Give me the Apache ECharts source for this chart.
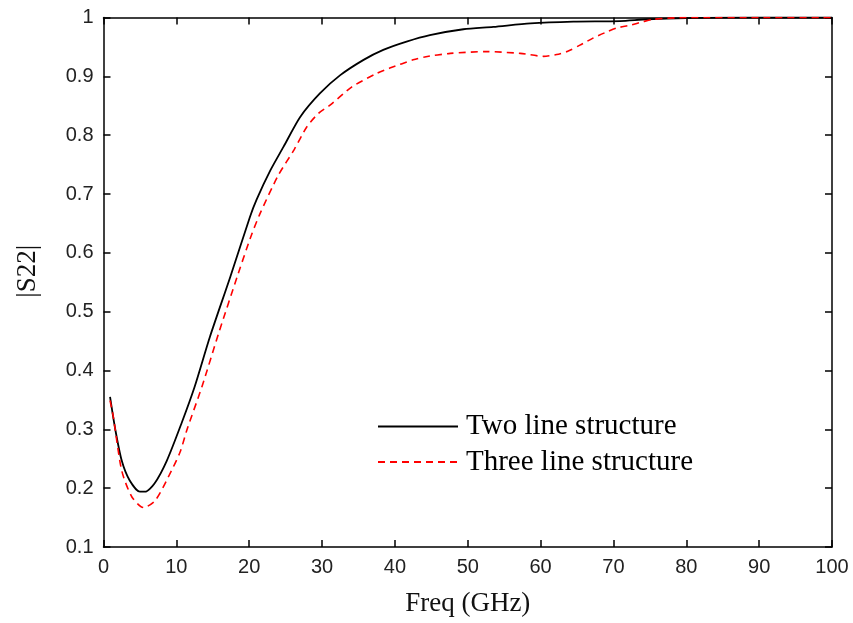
<!DOCTYPE html>
<html><head><meta charset="utf-8">
<script src="https://cdn.jsdelivr.net/npm/echarts@6/dist/echarts.min.js"></script>
<style>html,body{margin:0;padding:0;background:#fff}#c{width:853px;height:623px}</style>
</head><body><div id="c"></div>
<script>
// Data
const freqTwo = [0.9, 1.6, 2.5, 3.6, 5, 5.7, 7, 8.7, 10.7, 12.5, 14.6, 17.4, 20.1, 21, 22.9, 24.7, 27, 29.7, 32.5, 35.7, 38.4, 41.6, 44.8, 49.4, 53.5, 58.6, 64.5, 70.9, 74.6, 80, 90, 100];
const s22Two = [0.355, 0.301, 0.247, 0.213, 0.194, 0.194, 0.208, 0.247, 0.310, 0.372, 0.457, 0.559, 0.661, 0.690, 0.740, 0.780, 0.831, 0.871, 0.902, 0.928, 0.945, 0.959, 0.970, 0.980, 0.984, 0.990, 0.993, 0.994, 0.997, 0.999, 1.0, 1.0];
const freqThree = [0.9, 1.35, 2.5, 3.9, 5.5, 7.1, 8.9, 10.5, 11.5, 13.5, 15.8, 18.5, 20.3, 21.5, 24, 26.2, 27.9, 29.5, 31.1, 34.1, 37.5, 39.3, 42.5, 44.1, 47.6, 52.6, 57.2, 60.4, 62.2, 63.8, 65.4, 67.2, 68.8, 70.4, 72.3, 74.1, 75.5, 80, 90, 100];
const s22Three = [0.349, 0.321, 0.230, 0.185, 0.167, 0.179, 0.219, 0.261, 0.301, 0.372, 0.463, 0.565, 0.630, 0.667, 0.732, 0.776, 0.814, 0.837, 0.851, 0.882, 0.905, 0.914, 0.928, 0.933, 0.939, 0.942, 0.939, 0.934, 0.937, 0.943, 0.953, 0.965, 0.974, 0.982, 0.987, 0.993, 0.997, 1.0, 1.0, 1.0];
const seriesNames = ['Two line structure', 'Three line structure'];
const xAxisName = 'Freq (GHz)';
const yAxisName = '|S22|';

const pairs = (xs, ys) => xs.map((x, i) => [x, ys[i]]);
const chart = echarts.init(document.getElementById('c'), null, {renderer: 'canvas'});
const tickFont = {fontFamily: 'Liberation Sans', fontSize: 20, color: '#222'};
const nameFont = {fontFamily: 'Liberation Serif', fontSize: 27, color: '#111'};
const axLine = {show: true, onZero: false, lineStyle: {color: '#000', width: 1.5}};
const axTick = {show: true, inside: true, length: 7, lineStyle: {color: '#000', width: 1.5}};
chart.setOption({
  animation: false,
  backgroundColor: '#fff',
  grid: {left: 103.5, top: 17.5, right: 21, bottom: 76, containLabel: false},
  legend: {
    orient: 'vertical', left: 373, top: 408,
    itemWidth: 80, itemHeight: 20, itemGap: 6.5,
    itemStyle: {opacity: 0},
    textStyle: {fontFamily: 'Liberation Serif', fontSize: 29, color: '#000', padding: [0, 0, 0, 3]},
    backgroundColor: '#fff', padding: [4, 10, 4, 4],
    data: seriesNames
  },
  xAxis: [{
    type: 'value', min: 0, max: 100, interval: 10,
    name: xAxisName, nameLocation: 'middle', nameGap: 43, nameTextStyle: nameFont,
    axisLine: axLine, axisTick: axTick, splitLine: {show: false},
    axisLabel: Object.assign({margin: 10}, tickFont)
  }, {
    type: 'value', min: 0, max: 100, interval: 10, position: 'top',
    axisLine: axLine, axisTick: axTick, splitLine: {show: false}, axisLabel: {show: false}
  }],
  yAxis: [{
    type: 'value', min: 0.1, max: 1, interval: 0.1,
    name: yAxisName, nameLocation: 'middle', nameGap: 62, nameTextStyle: Object.assign({padding: [0, 0, 0, 22]}, nameFont),
    axisLine: axLine, axisTick: axTick, splitLine: {show: false},
    axisLabel: Object.assign({margin: 10, formatter: v => (Math.round(v * 10) / 10).toString()}, tickFont)
  }, {
    type: 'value', min: 0.1, max: 1, interval: 0.1, position: 'right',
    axisLine: axLine, axisTick: axTick, splitLine: {show: false}, axisLabel: {show: false}
  }],
  series: [{
    name: seriesNames[0], type: 'line', data: pairs(freqTwo, s22Two),
    symbol: 'none', smooth: 0.25, lineStyle: {color: '#000', width: 1.8}, itemStyle: {color: '#000'}
  }, {
    name: seriesNames[1], type: 'line', data: pairs(freqThree, s22Three),
    symbol: 'none', smooth: 0.25, lineStyle: {color: '#ff0000', width: 1.6, type: [7, 5]}, itemStyle: {color: '#ff0000'}
  }]
});
</script></body></html>
